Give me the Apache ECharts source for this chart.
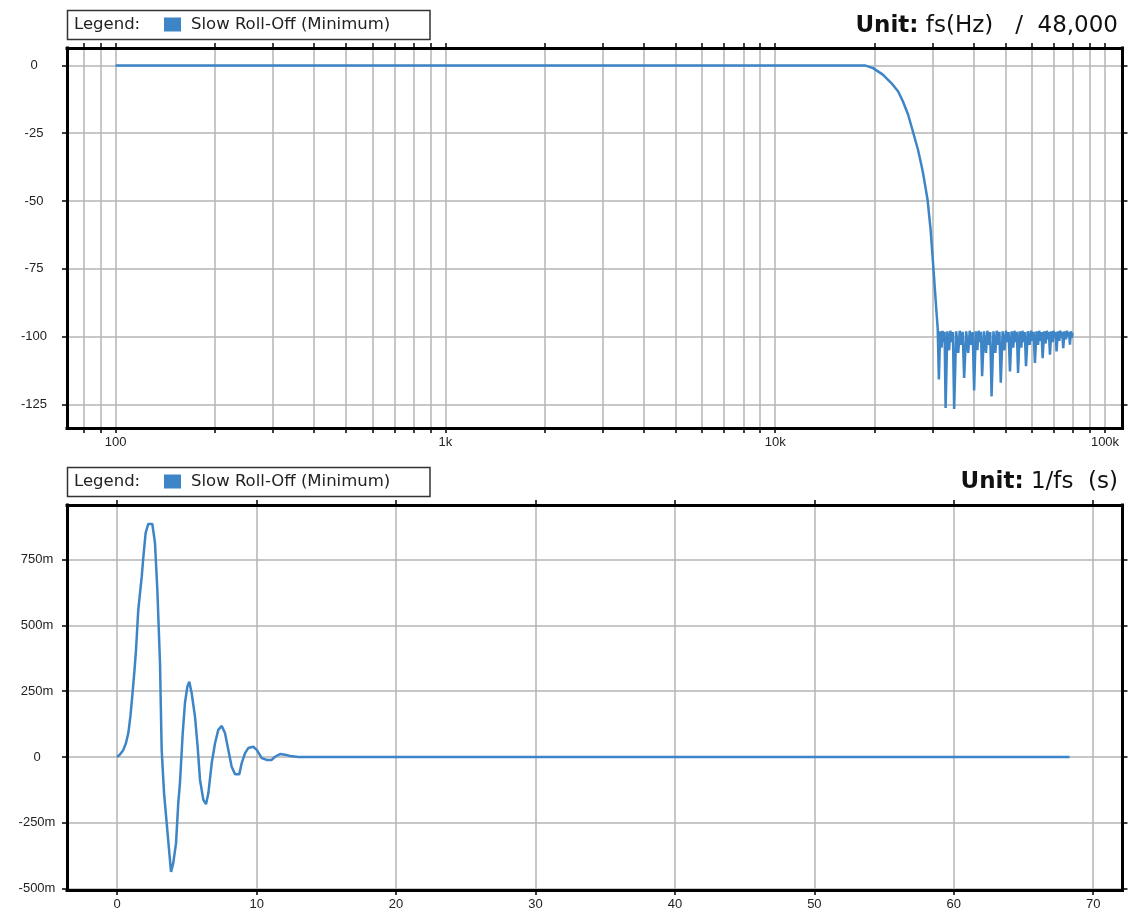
<!DOCTYPE html>
<html><head><meta charset="utf-8">
<script src="https://cdn.jsdelivr.net/npm/echarts@6/dist/echarts.min.js"></script>
<style>html,body{margin:0;padding:0;background:#fff}#c{width:1132px;height:913px}</style>
</head><body><div id="c"></div>
<script>
const seriesName = 'Slow Roll-Off (Minimum)';

// Frequency response (Hz, dB)
const freqHz = [100, 1000, 10000, 18000, 18700, 19800, 21200, 22500, 23600, 24400, 25300, 26100, 27100, 27800, 28100, 28970, 29600, 30100, 30500, 30850, 31100,
  31350, 31650, 31950, 32180, 32400, 32630,
  32860, 33260, 33670, 33970, 34270, 34580,
  34880, 35380, 35890, 36270, 36640, 37020,
  37400, 37940, 38480, 38890, 39290, 39700,
  40100, 40560, 41020, 41370, 41710, 42060,
  42400, 42980, 43560, 44000, 44430, 44870,
  45300, 45900, 46500, 46950, 47400, 47850,
  48300, 48940, 49580, 50060, 50540, 51020,
  51500, 52100, 52700, 53150, 53600, 54050,
  54500, 55120, 55740, 56200, 56670, 57130,
  57600, 58340, 59080, 59640, 60190, 60750,
  61300, 61980, 62660, 63170, 63680, 64190,
  64700, 65380, 66060, 66570, 67080, 67590,
  68100, 68740, 69380, 69860, 70340, 70820,
  71300, 71980, 72660, 73170, 73680, 74190,
  74700, 75420, 76140, 76680, 77220, 77760,
  78300, 78800, 79300, 79700];
const magDb = [0, 0, 0, 0, 0, -1.0, -3.4, -6.5, -9.6, -13.3, -18.2, -24.0, -31.1, -37.2, -40.0, -49.5, -60.6, -72.8, -82.7, -91.3, -97.0,
  -115.8, -98.0, -104, -97.8, -102, -98.2,
  -126.3, -98.0, -105, -97.8, -102, -98.3,
  -126.6, -98.0, -106, -97.8, -103, -98.2,
  -115.2, -98.0, -106, -97.8, -103, -98.3,
  -119.8, -98.0, -105, -97.8, -102, -98.2,
  -114.6, -98.0, -106, -97.8, -103, -98.3,
  -122.0, -98.0, -106, -97.8, -103, -98.2,
  -117.0, -98.0, -105, -97.8, -102, -98.3,
  -112.8, -98.0, -104, -97.8, -102, -98.2,
  -113.4, -98.0, -104, -97.8, -102, -98.3,
  -110.9, -98.0, -103, -97.8, -101.5, -98.2,
  -109.7, -98.0, -103, -97.8, -101.5, -98.3,
  -107.9, -98.0, -102.5, -97.8, -101, -98.2,
  -106.6, -98.0, -102, -97.8, -100.5, -98.3,
  -105.4, -98.0, -101.5, -97.8, -100.5, -98.2,
  -104.2, -98.0, -101, -97.8, -100, -98.3,
  -102.9, -98.0, -100.5, -98.5];
const freqTicks = [80, 90, 100, 200, 300, 400, 500, 600, 700, 800, 900, 1000, 2000, 3000, 4000, 5000, 6000, 7000, 8000, 9000,
  10000, 20000, 30000, 40000, 50000, 60000, 70000, 80000, 90000, 100000];
const freqLabels = [100, 1000, 10000, 100000];
const dbTicks = [-125, -100, -75, -50, -25, 0];

// Impulse response (1/fs, amplitude)
const timeSamples = [0, 0.2, 0.44, 0.63, 0.8, 0.95, 1.1, 1.24, 1.35, 1.51, 1.76, 1.87, 2.04, 2.23, 2.52, 2.71, 2.88, 3.07, 3.13, 3.19, 3.36, 3.55, 3.72, 3.86, 3.93, 4.02, 4.22, 4.38, 4.5, 4.7, 4.86, 5.03, 5.17, 5.34, 5.58, 5.77, 5.94, 6.18, 6.37, 6.54, 6.78, 7.02, 7.25, 7.5, 7.73, 7.97, 8.21, 8.45, 8.76, 8.93, 9.17, 9.4, 9.76, 10.01, 10.37, 10.72, 11.08, 11.32, 11.68, 12.04, 12.4, 13.0, 68.3];
const impulseAmp = [0, 0.01, 0.027, 0.053, 0.091, 0.156, 0.243, 0.33, 0.407, 0.558, 0.685, 0.756, 0.851, 0.885, 0.885, 0.813, 0.634, 0.357, 0.19, 0.027, -0.137, -0.251, -0.353, -0.436, -0.437, -0.403, -0.327, -0.175, -0.099, 0.091, 0.205, 0.267, 0.286, 0.243, 0.153, 0.039, -0.087, -0.163, -0.179, -0.137, -0.023, 0.053, 0.103, 0.118, 0.091, 0.027, -0.037, -0.065, -0.065, -0.023, 0.015, 0.034, 0.039, 0.027, -0.004, -0.011, -0.011, 0.001, 0.011, 0.009, 0.004, 0, 0];
const timeTicks = [0, 10, 20, 30, 40, 50, 60, 70];
const ampTicks = [-0.5, -0.25, 0, 0.25, 0.5, 0.75];

const LINE = '#3d85c6';
const GRIDC = '#b5b5b5';
const LBL = {color: '#222', fontSize: 13, fontFamily: '"Liberation Sans", Arial, sans-serif'};
const axisLine = {show: true, onZero: false, lineStyle: {color: '#000', width: 3, cap: 'square'}};
const tick = (vals) => ({show: true, length: 5, customValues: vals, lineStyle: {color: '#000', width: 1.5}});

function xPair(gi, type, min, max, ticks, labels, fmt) {
  const common = {gridIndex: gi, type: type, min: min, max: max};
  if (type === 'log') common.logBase = 10;
  return [
    Object.assign({}, common, {position: 'bottom', axisLine: axisLine, axisTick: tick(ticks),
      axisLabel: Object.assign({customValues: labels, formatter: fmt, margin: 8}, LBL),
      splitLine: {show: true, lineStyle: {color: GRIDC, width: 1.5}},
      minorTick: {show: false}, minorSplitLine: {show: false}}),
    Object.assign({}, common, {position: 'top', axisLine: axisLine, axisTick: tick(ticks),
      axisLabel: {show: false}, splitLine: {show: false}, minorTick: {show: false}})
  ];
}
function yPair(gi, min, max, ticks, fmt, margin) {
  const common = {gridIndex: gi, type: 'value', min: min, max: max};
  return [
    Object.assign({}, common, {position: 'left', axisLine: axisLine, axisTick: tick(ticks),
      axisLabel: Object.assign({customValues: ticks, formatter: fmt, margin: margin, align: 'center'}, LBL),
      splitLine: {show: true, lineStyle: {color: GRIDC, width: 1.5}}}),
    Object.assign({}, common, {position: 'right', axisLine: axisLine, axisTick: tick(ticks),
      axisLabel: {show: false}, splitLine: {show: false}})
  ];
}

const fmtHz = v => v >= 1000 ? (v / 1000) + 'k' : String(v);
const fmtAmp = v => Math.abs(v) < 1e-9 ? '0' : Math.round(v * 1000) + 'm';

const FONT_L = '"DejaVu Sans", sans-serif';
const legendBase = {
  orient: 'horizontal', padding: 0, selectedMode: false, icon: 'rect', itemWidth: 17, itemHeight: 14,
  data: [seriesName],
  textStyle: {color: '#222', fontSize: 16.5, fontFamily: FONT_L, padding: [0, 0, 0, 5]}
};
const unitRich = {b: {fontWeight: 'bold', fontSize: 23, fontFamily: FONT_L, fill: '#111'}};

const chart = echarts.init(document.getElementById('c'), null, {renderer: 'canvas'});
chart.setOption({
  animation: false,
  backgroundColor: '#fff',
  grid: [
    {left: 67, top: 48, width: 1055.5, height: 380, containLabel: false},
    {left: 67, top: 505, width: 1055.5, height: 385, containLabel: false}
  ],
  xAxis: [].concat(
    xPair(0, 'log', 71.2, 113000, freqTicks, freqLabels, fmtHz),
    xPair(1, 'value', -3.6, 72.1, timeTicks, timeTicks, v => String(v))
  ),
  yAxis: [].concat(
    yPair(0, -133.65, 6.41, dbTicks, v => String(v), 33),
    yPair(1, -0.505, 0.957, ampTicks, fmtAmp, 30)
  ),
  legend: [
    Object.assign({}, legendBase, {left: 164, top: 16}),
    Object.assign({}, legendBase, {left: 164, top: 473})
  ],
  graphic: [
    {type: 'rect', shape: {x: 67.5, y: 10.5, width: 362.5, height: 29}, style: {fill: 'none', stroke: '#333', lineWidth: 1.5}},
    {type: 'text', x: 74, y: 25, style: {text: 'Legend:', fontSize: 16.5, fontFamily: FONT_L, fill: '#222', verticalAlign: 'middle'}},
    {type: 'rect', shape: {x: 67.5, y: 467.5, width: 362.5, height: 29}, style: {fill: 'none', stroke: '#333', lineWidth: 1.5}},
    {type: 'text', x: 74, y: 482, style: {text: 'Legend:', fontSize: 16.5, fontFamily: FONT_L, fill: '#222', verticalAlign: 'middle'}},
    {type: 'text', x: 1118, y: 26, style: {text: '{b|Unit:} fs(Hz)   /  48,000', fontSize: 23, fontFamily: FONT_L, fill: '#111', align: 'right', verticalAlign: 'middle', rich: unitRich}},
    {type: 'text', x: 1118, y: 482, style: {text: '{b|Unit:} 1/fs  (s)', fontSize: 23, fontFamily: FONT_L, fill: '#111', align: 'right', verticalAlign: 'middle', rich: unitRich}}
  ],
  series: [
    {type: 'line', name: seriesName, xAxisIndex: 0, yAxisIndex: 0, data: freqHz.map((f, i) => [f, magDb[i]]),
      symbol: 'none', showSymbol: false, lineStyle: {color: LINE, width: 2.5}, itemStyle: {color: LINE}},
    {type: 'line', name: seriesName, xAxisIndex: 2, yAxisIndex: 2, data: timeSamples.map((t, i) => [t, impulseAmp[i]]),
      symbol: 'none', showSymbol: false, lineStyle: {color: LINE, width: 2.5}, itemStyle: {color: LINE}}
  ]
});
</script></body></html>
